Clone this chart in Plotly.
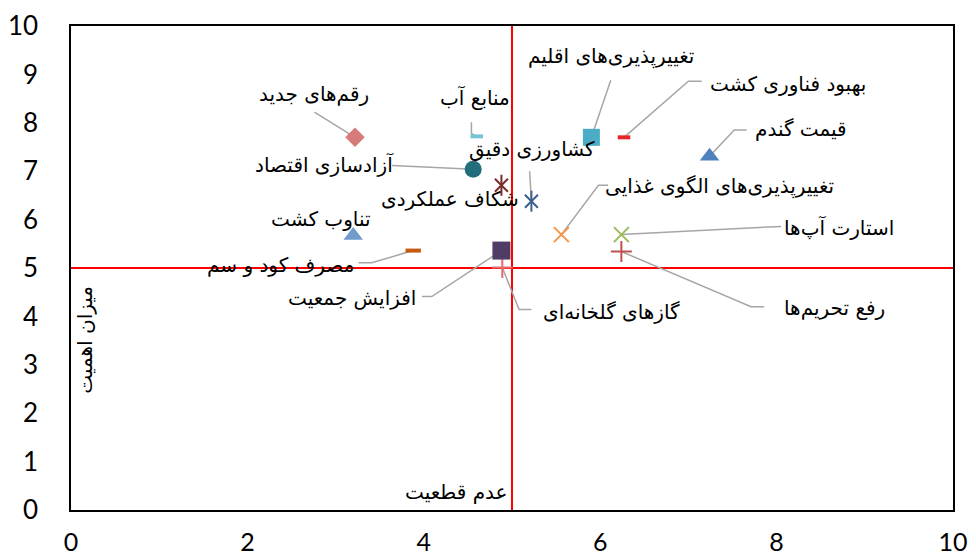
import plotly.graph_objects as go

# ---------------- data ----------------
labels = [
    "رقم‌های جدید", "منابع آب", "آزادسازی اقتصاد", "شکاف عملکردی", "کشاورزی دقیق",
    "تغییرپذیری‌های اقلیم", "بهبود فناوری کشت", "قیمت گندم", "تغییرپذیری‌های الگوی غذایی",
    "استارت آپ‌ها", "رفع تحریم‌ها", "گازهای گلخانه‌ای", "افزایش جمعیت", "مصرف کود و سم", "تناوب کشت",
]
uncertainty = [3.22, 4.60, 4.56, 4.88, 5.22, 5.90, 6.27, 7.24, 5.56, 6.24, 6.24, 4.89, 4.88, 3.88, 3.20]
importance = [7.70, 7.72, 7.04, 6.71, 6.38, 7.70, 7.70, 7.31, 5.69, 5.69, 5.34, 5.01, 5.36, 5.36, 5.67]

split_x = 5
split_y = 5
x_title = "عدم قطعیت"
y_title = "میزان اهمیت"
tick_vals_x = [0, 2, 4, 6, 8, 10]
tick_vals_y = [0, 1, 2, 3, 4, 5, 6, 7, 8, 9, 10]

# label placement (data coordinates) and leader-line elbow points
label_x = [2.75, 4.58, 2.87, 4.30, 5.23, 6.12, 8.13, 8.28, 7.35, 8.71, 8.66, 6.13, 3.19, 2.38, 2.84]
label_y = [8.59, 8.53, 7.14, 6.42, 7.45, 9.36, 8.80, 7.87, 6.69, 5.84, 4.18, 4.10, 4.39, 5.07, 6.02]
leader_paths = [
    [(2.76, 8.22)],
    [(4.54, 8.01), (4.54, 7.78)],
    [(3.64, 7.12)],
    [],
    [(5.20, 7.00)],
    [(6.12, 8.88)],
    [(7.15, 8.86), (7.00, 8.86)],
    [(7.66, 7.85), (7.52, 7.85)],
    [(6.09, 6.71), (5.98, 6.71)],
    [(8.05, 5.86)],
    [(7.86, 4.20), (7.71, 4.20)],
    [(5.22, 4.14), (5.08, 4.14)],
    [(3.98, 4.41), (4.09, 4.41)],
    [(3.26, 5.11), (3.41, 5.11)],
    [],
]

# ---------------- styles ----------------
symbols = ["diamond", "line-ew-open", "circle", "x-thin-open", "x-thin-open", "square", "line-ew-open",
           "triangle-up", "x-thin-open", "x-thin-open", "cross-thin-open", "cross-thin-open", "square",
           "line-ew-open", "triangle-up"]
colors = ["#d67a7a", "#78c4d6", "#246d7c", "#7a2c2c", "#3d5f8f", "#4bacc6", "#e8242a", "#4f81bd",
          "#f79646", "#9bbb59", "#c0504d", "#e86a6a", "#4f3d66", "#c55a11", "#729aca"]
sizes = [15, 9, 17, 13, 13, 17, 9, 17, 15, 15, 15, 15, 18, 11, 17]
line_widths = [0, 4, 0, 2, 2, 0, 4, 0, 2, 2, 2, 2, 0, 4, 0]
star_idx = [3, 4]  # Excel star markers = x plus vertical bar

label_font = "DejaVu Sans, Noto Sans, sans-serif"
label_size = 20

fig = go.Figure()

# quadrant split lines
fig.add_trace(go.Scatter(x=[split_x, split_x], y=[0, 10], mode="lines",
                         line=dict(color="#ff0000", width=2), hoverinfo="skip", showlegend=False))
fig.add_trace(go.Scatter(x=[0, 10], y=[split_y, split_y], mode="lines",
                         line=dict(color="#ff0000", width=2), hoverinfo="skip", showlegend=False))

# leader lines
lx, ly = [], []
for i, path in enumerate(leader_paths):
    if not path:
        continue
    for (px, py) in path:
        lx.append(px)
        ly.append(py)
    lx.append(uncertainty[i])
    ly.append(importance[i])
    lx.append(None)
    ly.append(None)
fig.add_trace(go.Scatter(x=lx, y=ly, mode="lines", line=dict(color="#a6a6a6", width=1.5),
                         hoverinfo="skip", showlegend=False))

# markers
for i in range(len(labels)):
    mk = dict(symbol=symbols[i], size=sizes[i], color=colors[i])
    if line_widths[i]:
        mk["line"] = dict(color=colors[i], width=line_widths[i])
    else:
        mk["line"] = dict(width=0)
    fig.add_trace(go.Scatter(x=[uncertainty[i]], y=[importance[i]], mode="markers", marker=mk,
                             name=labels[i], showlegend=False))
    if i in star_idx:
        fig.add_trace(go.Scatter(x=[uncertainty[i]], y=[importance[i]], mode="markers",
                                 marker=dict(symbol="line-ns-open", size=sizes[i] + 2, color=colors[i],
                                             line=dict(color=colors[i], width=2)),
                                 hoverinfo="skip", showlegend=False))

annotations = []
for i in range(len(labels)):
    annotations.append(dict(x=label_x[i], y=label_y[i], xref="x", yref="y", text=labels[i],
                            showarrow=False, font=dict(family=label_font, size=label_size, color="#000000")))
annotations.append(dict(x=4.36, y=0.37, xref="x", yref="y", text=x_title, showarrow=False,
                        font=dict(family=label_font, size=label_size, color="#000000")))
annotations.append(dict(x=0.16, y=3.52, xref="x", yref="y", text=y_title, showarrow=False, textangle=-90,
                        font=dict(family=label_font, size=label_size, color="#000000")))

fig.update_layout(
    width=968, height=548,
    margin=dict(l=63, r=23, t=18, b=46, autoexpand=False),
    paper_bgcolor="white", plot_bgcolor="white",
    showlegend=False,
    annotations=annotations,
    font=dict(family="Lato, Open Sans, sans-serif", size=26, color="#000000"),
)
fig.update_xaxes(range=[0, 10], tickvals=tick_vals_x, showgrid=False, zeroline=False,
                 showline=True, linecolor="#000000", linewidth=1.5, mirror=True, automargin=False,
                 ticks="", ticklabelstandoff=9, tickfont=dict(size=25))
fig.update_yaxes(range=[0, 10], tickvals=tick_vals_y, showgrid=False, zeroline=False,
                 showline=True, linecolor="#000000", linewidth=1.5, mirror=True, automargin=False,
                 ticks="", ticklabelstandoff=26, tickfont=dict(size=26))

fig.write_html("out.html")
